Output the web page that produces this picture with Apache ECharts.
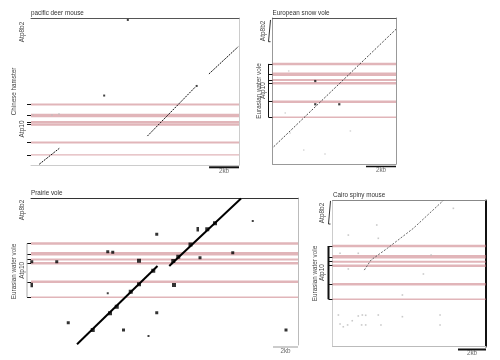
<!DOCTYPE html>
<html><head><meta charset="utf-8">
<script src="https://cdn.jsdelivr.net/npm/echarts@6/dist/echarts.min.js"></script>
<style>html,body{margin:0;padding:0;background:#fff}#c{width:500px;height:360px}</style>
</head><body><div id="c"></div>
<script>
// ---------- data (kb units) ----------
const titles = ['pacific deer mouse', 'European snow vole', 'Prairie vole', 'Cairo spiny mouse'];
const yTitles = ['Chinese hamster', 'Eurasian water vole', 'Eurasian water vole', 'Eurasian water vole'];
const geneNames = ['Atp8b2', 'Atp10'];
const scaleBarLabel = '2kb';
const scaleBarKb = 2;

const xMaxKb = [13.9, 8.23, 21.36, 10.96];
const yMaxKb = [9.8, 9.73, 11.76, 10.43];

const exonsTL = [4.03, 3.3, 2.87, 2.7, 1.5, 0.67];
const exonsTR = [6.67, 5.98, 5.6, 5.38, 4.15, 3.11];
const exonsBL = [8.12, 7.30, 6.84, 6.54, 5.06, 3.82];
const exonsBR = [7.18, 6.41, 6.06, 5.77, 4.44, 3.37];

const genePosTL = [8.87, 2.4];
const genePosTR = [8.87, 4.89];
const genePosBL = [10.8, 5.97];
const genePosBR = [9.54, 5.28];

const atp8b2SpanTR = [8.15, 9.6];
const atp8b2SpanBR = [8.75, 10.4];

const diagTL = [[[0.55, 0.05], [1.89, 1.11]], [[7.78, 1.93], [11.0, 5.22]], [[11.89, 6.07], [13.85, 7.89]]];
const diagTR = [[[0.08, 1.15], [8.23, 8.98]]];
const diagBL = [[[3.68, 0.06], [10.12, 6.32]], [[11.06, 6.32], [16.8, 11.72]]];
const diagBR = [[[2.27, 5.46], [2.75, 6.18], [3.91, 7.01], [5.77, 8.44], [7.91, 10.43]]];

const dotsTL = [[6.47, 9.67], [4.89, 4.63], [11.07, 5.27]];
const faintTL = [[0.13, 3.33], [1.4, 3.33], [1.87, 3.4]];

const dotsTR = [[2.85, 5.53], [2.85, 3.98], [4.45, 3.98]];
const faintTR = [[1.08, 6.2], [5.19, 2.2], [2.08, 0.93], [3.5, 0.67], [0.85, 3.4], [1.17, 2.07]];

const blocksBL = [[4.94, 1.2], [6.32, 2.54], [6.86, 3.06], [7.98, 4.26], [8.64, 4.86], [9.78, 5.94],
  [11.38, 6.72], [11.78, 7.06], [12.76, 8.04], [14.1, 9.26], [14.72, 9.74], [8.64, 6.74], [11.44, 4.8]];
const dotsBL = [[0.06, 6.66], [2.06, 6.66], [6.14, 7.46], [6.54, 7.42], [2.98, 1.78], [7.4, 1.2],
  [10.06, 2.58], [10.06, 8.86], [16.14, 7.38], [13.52, 6.98], [20.4, 1.2]];
const smallBL = [[6.14, 4.14], [9.4, 0.72], [17.74, 9.92]];
const tallBL = [[0.06, 4.8], [13.34, 9.26]];

const faintBR = [[0.42, 2.25], [0.54, 1.61], [0.77, 1.41], [1.08, 1.54], [1.41, 1.84], [1.84, 2.18],
  [2.13, 2.25], [2.37, 2.23], [2.08, 1.54], [2.37, 1.54], [3.27, 2.25], [3.46, 1.54], [4.99, 2.13],
  [7.68, 2.25], [7.68, 1.54], [1.13, 7.96], [3.16, 8.68], [3.27, 7.73], [0.54, 6.66], [1.84, 6.66],
  [1.13, 5.54], [6.49, 5.18], [7.04, 6.54], [4.99, 3.68], [8.63, 9.87]];

// ---------- layout & style ----------
const FONT = 'Liberation Sans, Arial, sans-serif';
const PINK = 'rgba(200,120,128,0.55)';
const grids = [
  {left: 31, top: 18, width: 208, height: 147},
  {left: 272.5, top: 18, width: 123.5, height: 146},
  {left: 31, top: 198, width: 267, height: 147},
  {left: 332.5, top: 200.5, width: 153.5, height: 146}
];
const titlePos = [[31, 10], [272.5, 10], [31, 190.5], [333, 192]];
const nameGaps = [13.5, 10.5, 13.5, 14];
const labelMargins = [5.5, 6, 5, 6.5];
const exonWidthsTL = [2, 3.5, 2, 2.5, 2, 1.3];
const exonWidthsWV = [2.5, 3.5, 2, 2.5, 2.5, 1.5];
const frames = [
  {top: '#555', bottom: '#ccc', left: null, right: '#ccc', rightW: 1},
  {top: '#555', bottom: '#999', left: '#999', right: '#999', rightW: 1},
  {top: '#333', bottom: null, left: null, right: '#bbb', rightW: 1},
  {top: '#888', bottom: '#bbb', left: '#ccc', right: '#111', rightW: 2}
];
const barStyle = [
  {color: '#111', width: 2, off: 2.3},
  {color: '#111', width: 1.5, off: 2.5},
  {color: '#999', width: 1, off: 2},
  {color: '#111', width: 2, off: 3}
];
const bracketStyle = [null, {color: '#111', width: 1}, {color: '#aaa', width: 1}, {color: '#111', width: 2}];
const TICK = 4;

const exons = [exonsTL, exonsTR, exonsBL, exonsBR];
const genePos = [genePosTL, genePosTR, genePosBL, genePosBR];
const diags = [diagTL, diagTR, diagBL, diagBR];
const atp8b2Spans = [null, atp8b2SpanTR, null, atp8b2SpanBR];
const pxPerKbY = grids.map((g, i) => g.height / yMaxKb[i]);

const xAxis = [], yAxis = [], series = [], title = [];
const gridList = grids.map(g => Object.assign({containLabel: false, outerBoundsMode: 'none'}, g));
const hidden = {axisTick: {show: false}, axisLabel: {show: false}, splitLine: {show: false}};

for (let p = 0; p < 4; p++) {
  const f = frames[p];
  title.push({text: titles[p], left: titlePos[p][0], top: titlePos[p][1], padding: 0,
    textStyle: {fontSize: 6.3, color: '#333', fontWeight: 'normal', fontFamily: FONT}});
  xAxis.push(Object.assign({gridIndex: p, type: 'value', min: 0, max: xMaxKb[p], position: 'bottom',
    axisLine: {show: !!f.bottom, onZero: false, lineStyle: {color: f.bottom || '#000', width: 1}}}, hidden));
  xAxis.push(Object.assign({gridIndex: p, type: 'value', min: 0, max: xMaxKb[p], position: 'top',
    axisLine: {show: true, onZero: false, lineStyle: {color: f.top, width: 1}}}, hidden));
  const gp = genePos[p];
  yAxis.push({gridIndex: p, type: 'value', min: 0, max: yMaxKb[p], position: 'left',
    axisLine: {show: !!f.left, onZero: false, lineStyle: {color: f.left || '#000', width: 1}},
    axisTick: {show: true, customValues: exons[p], length: TICK, lineStyle: {color: '#111', width: 1}},
    axisLabel: {show: true, customValues: gp, rotate: 90, margin: labelMargins[p],
      formatter: (v, i) => { const k = gp.indexOf(v); return geneNames[k >= 0 ? k : i]; },
      fontSize: 6.5, color: '#444', fontFamily: FONT},
    splitLine: {show: false},
    name: yTitles[p], nameLocation: 'middle', nameGap: nameGaps[p], nameRotate: 90, nameMoveOverlap: false,
    nameTextStyle: {fontSize: 6.3, color: '#444', fontFamily: FONT}});
  yAxis.push(Object.assign({gridIndex: p, type: 'value', min: 0, max: yMaxKb[p], position: 'right',
    axisLine: {show: !!f.right, onZero: false, lineStyle: {color: f.right || '#000', width: f.rightW}}}, hidden));

  const xi = 2 * p, yi = 2 * p;
  const base = {xAxisIndex: xi, yAxisIndex: yi, silent: true, animation: false};
  // exon lines
  const widths = p === 0 ? exonWidthsTL : exonWidthsWV;
  exons[p].forEach((e, j) => {
    series.push(Object.assign({type: 'line', data: [[0, e], [xMaxKb[p], e]], symbol: 'none', z: 1,
      lineStyle: {color: PINK, width: widths[j]}}, base));
  });
  // diagonals
  const dStyle = [
    {color: '#111', width: 1, type: [2, 1]},
    {color: '#333', width: 0.9, type: [2, 1.5]},
    {color: '#000', width: 2, type: 'solid'},
    {color: '#555', width: 0.9, type: [2, 1.5]}
  ][p];
  diags[p].forEach(seg => {
    series.push(Object.assign({type: 'line', data: seg, symbol: 'none', z: 3, lineStyle: dStyle}, base));
  });
  // scale bar
  const by = -barStyle[p].off / pxPerKbY[p];
  series.push(Object.assign({type: 'line', clip: false, symbol: 'none', z: 4,
    data: [[xMaxKb[p] - scaleBarKb, by], [xMaxKb[p], by]],
    lineStyle: {color: barStyle[p].color, width: barStyle[p].width}}, base));
  series.push(Object.assign({type: 'scatter', clip: false, symbolSize: 0, z: 4,
    data: [[xMaxKb[p] - scaleBarKb / 2, by]],
    label: {show: true, position: 'bottom', distance: 1, formatter: scaleBarLabel,
      fontSize: 6.3, color: '#444', fontFamily: FONT}}, base));
}

// gene brackets: a narrow strip grid left of each frame, sharing that panel's y scale
for (let p = 0; p < 4; p++) {
  if (!bracketStyle[p]) continue;
  const g = grids[p];
  const gi = gridList.length;
  gridList.push({left: g.left - 2 * TICK, top: g.top, width: 2 * TICK, height: g.height,
    containLabel: false, outerBoundsMode: 'none'});
  xAxis.push({gridIndex: gi, type: 'value', min: -1, max: 1, show: false});
  yAxis.push({gridIndex: gi, type: 'value', min: 0, max: yMaxKb[p], show: false});
  const bb = {xAxisIndex: xAxis.length - 1, yAxisIndex: yAxis.length - 1, silent: true,
    animation: false, clip: false, symbol: 'none', z: 4, type: 'line'};
  const ex = exons[p];
  series.push(Object.assign({data: [[0, Math.max(...ex)], [0, Math.min(...ex)]],
    lineStyle: bracketStyle[p]}, bb));
  const s8 = atp8b2Spans[p];
  if (s8) {
    series.push(Object.assign({data: [[0.5, s8[1]], [0, s8[1]], [0, s8[0]], [0.5, s8[0]]],
      lineStyle: {color: '#333', width: 1}}, bb));
  }
}

function dots(p, data, size, color) {
  series.push({type: 'scatter', xAxisIndex: 2 * p, yAxisIndex: 2 * p, data: data, symbol: 'rect',
    symbolSize: size, itemStyle: {color: color}, silent: true, animation: false, z: 5});
}
dots(0, dotsTL, 2, '#111');
dots(0, faintTL, 1.5, '#bbb');
dots(1, dotsTR, 2.2, '#111');
dots(1, faintTR, 1.5, '#ccc');
dots(2, blocksBL, 4, '#000');
dots(2, dotsBL, 3, '#000');
dots(2, smallBL, 2, '#111');
dots(2, tallBL, [2.5, 4.5], '#000');
dots(3, faintBR, 1.6, '#bbb');

const chart = echarts.init(document.getElementById('c'), null, {renderer: 'canvas'});
chart.setOption({
  animation: false,
  backgroundColor: '#fff',
  title: title,
  grid: gridList,
  xAxis: xAxis,
  yAxis: yAxis,
  series: series
});
</script>
</body></html>
